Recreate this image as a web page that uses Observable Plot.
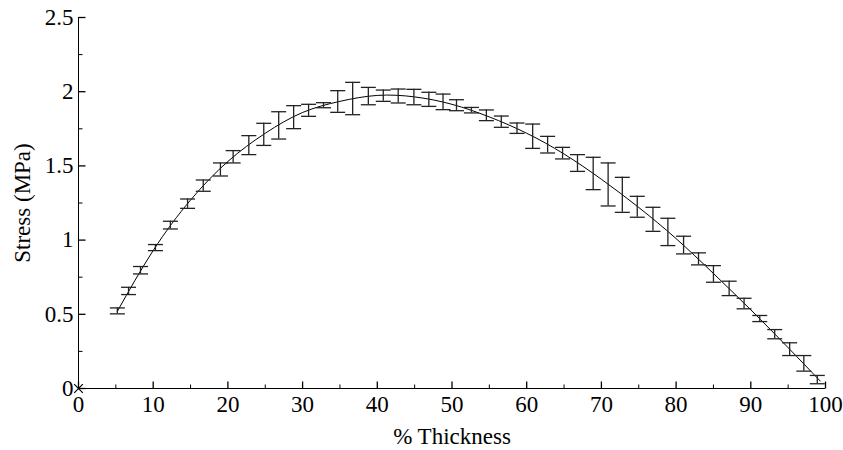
<!DOCTYPE html>
<html><head><meta charset="utf-8">
<script src="https://cdn.jsdelivr.net/npm/d3@7"></script>
<script src="https://cdn.jsdelivr.net/npm/@observablehq/plot@0.6"></script>
<style>body{margin:0;background:#fff} #chart{width:843px;height:450px}</style>
</head><body><div id="chart"></div>
<script>
// Error bar positions (% thickness) with upper and lower limits (MPa)
const thickness = [5.2, 6.7, 8.3, 10.3, 12.3, 14.6, 16.7, 19.0, 20.7, 22.8, 24.8, 26.8, 28.8, 30.8,
  32.8, 34.7, 36.7, 38.8, 40.8, 42.8, 44.9, 46.9, 48.8, 50.6, 52.6, 54.6, 56.6, 58.7, 60.8, 62.8,
  64.8, 66.8, 68.9, 70.9, 72.8, 74.8, 76.9, 78.9, 81.0, 83.0, 85.0, 87.1, 89.1, 91.2, 93.2, 95.2, 97.1, 98.9];
const upper = [0.543, 0.682, 0.822, 0.970, 1.127, 1.277, 1.405, 1.520, 1.603, 1.704, 1.787, 1.865, 1.906, 1.915,
  1.926, 2.007, 2.063, 2.029, 2.011, 2.018, 2.016, 1.996, 1.984, 1.946, 1.894, 1.877, 1.836, 1.789, 1.782, 1.699,
  1.625, 1.576, 1.558, 1.520, 1.423, 1.295, 1.221, 1.147, 1.026, 0.914, 0.828, 0.723, 0.608, 0.492, 0.397, 0.308, 0.222, 0.088];
const lower = [0.503, 0.633, 0.772, 0.929, 1.075, 1.214, 1.329, 1.432, 1.520, 1.576, 1.638, 1.681, 1.751, 1.834,
  1.892, 1.861, 1.845, 1.912, 1.935, 1.924, 1.912, 1.901, 1.879, 1.872, 1.857, 1.805, 1.760, 1.719, 1.618, 1.587,
  1.547, 1.463, 1.340, 1.230, 1.187, 1.154, 1.059, 0.963, 0.907, 0.833, 0.716, 0.626, 0.537, 0.451, 0.335, 0.222, 0.117, 0.032];

// Fitted curve
const fitThickness = [5.2, 10, 15, 20, 25, 30, 35, 40, 45, 50, 55, 60, 65, 70, 75, 80, 85, 90, 95, 99.3];
const fitStress = [0.52, 0.93, 1.27, 1.53, 1.72, 1.86, 1.935, 1.975, 1.965, 1.915, 1.83, 1.72, 1.58, 1.41, 1.22, 1.01, 0.775, 0.53, 0.275, 0.05];

// Ticks
const xMajor = [0, 10, 20, 30, 40, 50, 60, 70, 80, 90, 100];
const xMinor = [5, 15, 25, 35, 45, 55, 65, 75, 85, 95];
const yMajor = [0, 0.5, 1, 1.5, 2, 2.5];
const yMinor = [0.25, 0.75, 1.25, 1.75, 2.25];

const bars = thickness.map((x, i) => ({x, upper: upper[i], lower: lower[i]}));
const fit = fitThickness.map((x, i) => ({x, y: fitStress[i]}));

const seg = (x1, y1, x2, y2) => ({draw(ctx) { ctx.moveTo(x1, y1); ctx.lineTo(x2, y2); }});
const cap = seg(-7.5, 0, 7.5, 0);
const xTickMajor = seg(0, 0, 0, -7);
const xTickMinor = seg(0, 0, 0, -4);
const yTickMajor = seg(0, 0, 7, 0);
const yTickMinor = seg(0, 0, 4, 0);

const FS = 23;
const FONT = "'Liberation Serif', 'Times New Roman', serif";
const chart = Plot.plot({
  width: 843,
  height: 450,
  marginLeft: 78,
  marginRight: 18,
  marginTop: 17,
  marginBottom: 62,
  style: {fontFamily: FONT, fontSize: FS + "px", color: "#000", background: "#fff"},
  x: {domain: [0, 100], axis: null},
  y: {domain: [0, 2.5], axis: null},
  marks: [
    Plot.text(xMajor, {x: d => d, y: () => 0, text: d => String(d), dy: 16, fontSize: FS, fontFamily: FONT, fill: "#000"}),
    Plot.text(yMajor, {x: () => 0, y: d => d, text: d => String(d), dx: -5, textAnchor: "end", fontSize: FS, fontFamily: FONT, fill: "#000"}),
    Plot.ruleY([0], {stroke: "#000", strokeWidth: 1}),
    Plot.ruleX([0], {stroke: "#000", strokeWidth: 1}),
    Plot.dot(xMajor, {x: d => d, y: () => 0, symbol: xTickMajor, fill: "none", stroke: "#000", strokeWidth: 1.3}),
    Plot.dot(xMinor, {x: d => d, y: () => 0, symbol: xTickMinor, fill: "none", stroke: "#000", strokeWidth: 1}),
    Plot.dot(yMajor, {x: () => 0, y: d => d, symbol: yTickMajor, fill: "none", stroke: "#000", strokeWidth: 1.3}),
    Plot.dot(yMinor, {x: () => 0, y: d => d, symbol: yTickMinor, fill: "none", stroke: "#000", strokeWidth: 1}),
    Plot.line(fit, {x: "x", y: "y", curve: "natural", stroke: "#000", strokeWidth: 1}),
    Plot.ruleX(bars, {x: "x", y1: "lower", y2: "upper", stroke: "#222", strokeWidth: 1.3}),
    Plot.dot(bars, {x: "x", y: "upper", symbol: cap, fill: "none", stroke: "#222", strokeWidth: 1.3}),
    Plot.dot(bars, {x: "x", y: "lower", symbol: cap, fill: "none", stroke: "#222", strokeWidth: 1.3}),
    Plot.dot([{x: 0, y: 0}], {x: "x", y: "y", symbol: "times", r: 4, stroke: "#000", strokeWidth: 1.2}),
    Plot.text(["% Thickness"], {frameAnchor: "bottom", dy: 55, fontSize: FS, fontFamily: FONT, fill: "#000"}),
    Plot.text(["Stress (MPa)"], {frameAnchor: "left", textAnchor: "middle", dx: -56, rotate: -90, fontSize: FS, fontFamily: FONT, fill: "#000"})
  ]
});
document.getElementById("chart").appendChild(chart);
</script>
</body></html>
